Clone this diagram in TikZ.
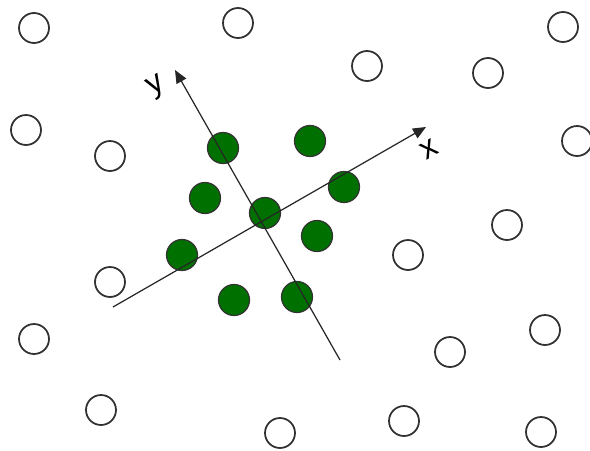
\documentclass[tikz,border=0pt]{standalone}
\usepackage{fontspec}
\setsansfont{Liberation Sans}
\usepackage{tikz}
\usetikzlibrary{arrows.meta}

\definecolor{dotgreen}{RGB}{0,112,0}
\definecolor{rimgray}{RGB}{50,50,50}

\begin{document}
\begin{tikzpicture}[
    x=0.02cm, y=-0.02cm,
    open/.style={circle, draw=rimgray, line width=1pt, fill=white, minimum size=0.6cm, inner sep=0pt},
    point/.style={circle, draw=black!80, line width=0.7pt, fill=dotgreen, minimum size=0.62cm, inner sep=0pt},
    axis/.style={-{Triangle[length=2.6mm, width=2.2mm]}, line width=0.7pt, black!85},
    lbl/.style={font=\sffamily\fontsize{18}{20}\selectfont, rotate=30},
]
    \useasboundingbox (0,0) rectangle (590,450);

    % Other points
    \node[open] (o1) at (34,28) {};
    \node[open] (o2) at (238,23) {};
    \node[open] (o3) at (563,27) {};
    \node[open] (o4) at (367,66) {};
    \node[open] (o5) at (488,73) {};
    \node[open] (o6) at (26,130) {};
    \node[open] (o7) at (110,156) {};
    \node[open] (o8) at (577,141) {};
    \node[open] (o9) at (507,225) {};
    \node[open] (o10) at (408,255) {};
    \node[open] (o11) at (110,282) {};
    \node[open] (o12) at (34,339) {};
    \node[open] (o13) at (545,330) {};
    \node[open] (o14) at (450,352) {};
    \node[open] (o15) at (101,410) {};
    \node[open] (o16) at (280,433) {};
    \node[open] (o17) at (404,421) {};
    \node[open] (o18) at (541,432) {};

    % Cluster
    \node[point] (g1) at (223,148) {};
    \node[point] (g2) at (310,141) {};
    \node[point] (g3) at (205,198) {};
    \node[point] (g4) at (344,187) {};
    \node[point] (g5) at (265,213) {};
    \node[point] (g6) at (182,255) {};
    \node[point] (g7) at (317,236) {};
    \node[point] (g8) at (234,300) {};
    \node[point] (g9) at (297,297) {};

    % Axes
    \coordinate (xstart) at (113,307);
    \coordinate (xend) at (426,127);
    \coordinate (ystart) at (340,360);
    \coordinate (yend) at (175,70);
    \draw[axis] (xstart) -- (xend);
    \draw[axis] (ystart) -- (yend);
    \node[lbl] (xlabel) at (429,149) {x};
    \node[lbl] (ylabel) at (157,87) {y};
\end{tikzpicture}
\end{document}
